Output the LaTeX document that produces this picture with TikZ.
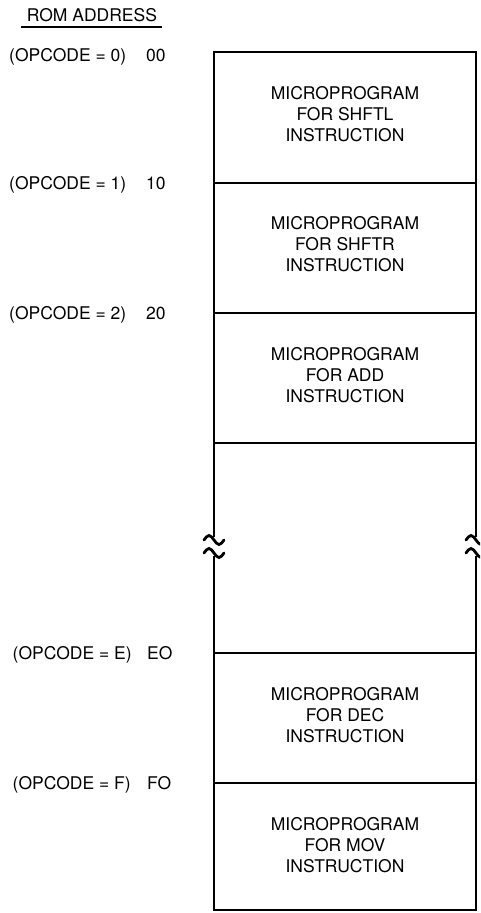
\documentclass[tikz,border=0pt]{standalone}
\usepackage{fontspec}
\setmainfont{TeX Gyre Heros}
\begin{document}
\begin{tikzpicture}[x=1pt,y=-1pt,
  frame/.style={line width=2.8pt},
  brk/.style={line width=2.8pt,line cap=round},
  addr/.style={anchor=base west,inner sep=0pt,font=\fontsize{17.5}{21}\selectfont},
  mp/.style={align=center,inner sep=0pt,font=\fontsize{17.5}{21}\selectfont}]
\useasboundingbox (0,0) rectangle (480,913);
\begin{scope}
\clip (0,0) rectangle (480,913);
% header
\node[addr,anchor=base] (hdr) at (92,21) {ROM ADDRESS};
\draw[line width=1.5pt] (21,27) -- (162,27);
% column coordinates
\coordinate (tl) at (214,52);  \coordinate (tr) at (476,52);
\coordinate (d1l) at (214,183); \coordinate (d1r) at (476,183);
\coordinate (d2l) at (214,313); \coordinate (d2r) at (476,313);
\coordinate (d3l) at (214,443); \coordinate (d3r) at (476,443);
\coordinate (bl1) at (214,536); \coordinate (br1) at (476,536);
\coordinate (bl2) at (214,557); \coordinate (br2) at (476,557);
\coordinate (d4l) at (214,653); \coordinate (d4r) at (476,653);
\coordinate (d5l) at (214,783); \coordinate (d5r) at (476,783);
\coordinate (bot l) at (214,910); \coordinate (bot r) at (476,910);
% frame
\draw[frame,line cap=rect] (bl1) -- (tl) -- (tr) -- (br1);
\draw[frame,line cap=rect] (bl2) -- (bot l) -- (bot r) -- (br2);
\draw[frame] (d1l) -- (d1r);
\draw[frame] (d2l) -- (d2r);
\draw[frame] (d3l) -- (d3r);
\draw[frame] (d4l) -- (d4r);
\draw[frame] (d5l) -- (d5r);
% break symbols
\foreach \cx in {214,476}{
  \foreach \cy in {540,553}{
    \draw[brk] (\cx-10,\cy) sin (\cx-5,\cy-4.5) cos (\cx,\cy) sin (\cx+5,\cy+4.5) cos (\cx+10,\cy);
  }
}
\end{scope}
% microprogram texts
\node[mp] (m1) at (345,114) {MICROPROGRAM\\FOR SHFTL\\INSTRUCTION};
\node[mp] (m2) at (345,244) {MICROPROGRAM\\FOR SHFTR\\INSTRUCTION};
\node[mp] (m3) at (345,375) {MICROPROGRAM\\FOR ADD\\INSTRUCTION};
\node[mp] (m4) at (345,715) {MICROPROGRAM\\FOR DEC\\INSTRUCTION};
\node[mp] (m5) at (345,845) {MICROPROGRAM\\FOR MOV\\INSTRUCTION};
% address labels
\node[addr] (o0) at (9,61) {(OPCODE = 0)};
\node[addr] (a0) at (146,61) {00};
\node[addr] (o1) at (9,189) {(OPCODE = 1)};
\node[addr] (a1) at (146,189) {10};
\node[addr] (o2) at (9,319) {(OPCODE = 2)};
\node[addr] (a2) at (146,319) {20};
\node[addr] (oe) at (12.5,659) {(OPCODE = E)};
\node[addr] (ae) at (147,659) {EO};
\node[addr] (of) at (12.5,789) {(OPCODE = F)};
\node[addr] (af) at (147,789) {FO};
\end{tikzpicture}
\end{document}
